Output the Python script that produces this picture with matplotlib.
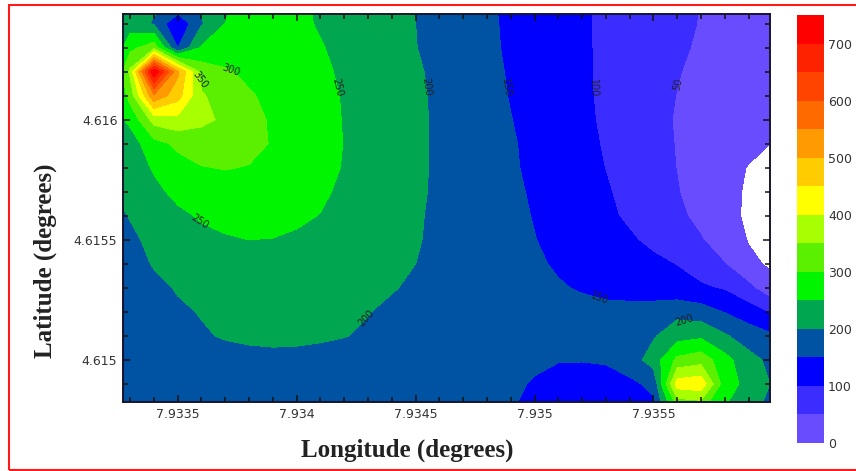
import numpy as np
import matplotlib
matplotlib.use('Agg')
import matplotlib.pyplot as plt
from matplotlib.ticker import MultipleLocator, FuncFormatter
from matplotlib.patches import Rectangle

# --- grid coordinates (degrees) ---
lon = [7.9332, 7.9333, 7.9334, 7.9335, 7.9336, 7.9337, 7.9338, 7.9339, 7.9340, 7.9341,
       7.9342, 7.9343, 7.9344, 7.9345, 7.9346, 7.9347, 7.9348, 7.9349, 7.9350, 7.9351,
       7.9352, 7.9353, 7.9354, 7.9355, 7.9356, 7.9357, 7.9358, 7.9359, 7.9360]
lat = [4.6165, 4.6164, 4.6163, 4.6162, 4.6161, 4.6160, 4.6159, 4.6158, 4.6157,
       4.6156, 4.6155, 4.6154, 4.6153, 4.6152, 4.6151, 4.6150, 4.6149, 4.6148]

# --- values, one row per latitude (north to south) ---
z_rows = [
    [185, 192, 210, 220, 210, 245, 262, 268, 258, 243, 232, 221, 210, 199, 183, 169, 155, 142, 130, 117, 105, 93, 82, 71, 60, 49, 40, 31, 22],
    [180, 225, 195, 105, 195, 250, 266, 272, 262, 245, 234, 222, 211, 200, 186, 171, 157, 143, 130, 117, 105, 93, 81, 70, 59, 48, 38, 28, 18],
    [175, 285, 330, 150, 255, 275, 278, 275, 266, 253, 238, 226, 213, 201, 187, 172, 158, 144, 131, 118, 105, 93, 80, 68, 56, 45, 35, 24, 14],
    [180, 360, 745, 510, 330, 305, 291, 280, 268, 256, 245, 231, 218, 205, 191, 176, 161, 146, 133, 119, 106, 92, 79, 65, 52, 41, 31, 21, 11],
    [190, 320, 540, 470, 355, 328, 304, 290, 276, 262, 247, 233, 220, 207, 193, 178, 163, 148, 134, 121, 107, 92, 78, 64, 49, 38, 28, 18, 7],
    [215, 262, 370, 385, 362, 341, 315, 294, 279, 264, 248, 235, 221, 207, 194, 180, 165, 151, 137, 123, 109, 93, 77, 61, 47, 36, 25, 13, 2],
    [210, 225, 282, 310, 322, 320, 312, 297, 281, 265, 249, 235, 221, 207, 194, 181, 168, 154, 140, 126, 111, 96, 80, 63, 48, 35, 23, 11, -1],
    [200, 222, 255, 282, 298, 302, 298, 286, 273, 260, 248, 235, 221, 207, 194, 181, 168, 155, 142, 128, 114, 99, 83, 66, 49, 32, 15, -2, -12],
    [195, 212, 238, 262, 276, 281, 280, 275, 266, 256, 243, 231, 218, 206, 194, 182, 170, 158, 145, 131, 118, 104, 87, 70, 52, 32, 12, -5, -18],
    [185, 202, 222, 240, 255, 262, 265, 262, 256, 249, 237, 226, 215, 204, 193, 182, 171, 160, 148, 135, 121, 108, 93, 76, 59, 38, 12, -6, -16],
    [175, 192, 210, 226, 238, 246, 250, 249, 245, 239, 232, 224, 214, 203, 192, 182, 171, 161, 151, 140, 128, 117, 105, 90, 72, 53, 24, -2, -10],
    [168, 183, 203, 216, 226, 232, 235, 236, 234, 230, 224, 217, 209, 200, 191, 182, 173, 164, 155, 146, 137, 127, 118, 109, 98, 74, 51, 8, -6],
    [163, 175, 190, 203, 212, 218, 222, 223, 222, 218, 213, 207, 202, 195, 188, 180, 172, 165, 158, 153, 147, 139, 131, 123, 115, 107, 94, 62, 12],
    [158, 168, 180, 194, 202, 206, 210, 211, 210, 207, 203, 201, 194, 186, 180, 175, 170, 166, 163, 161, 160, 161, 165, 172, 185, 172, 148, 122, 92],
    [155, 163, 172, 182, 196, 203, 206, 207, 206, 204, 201, 196, 187, 181, 176, 172, 168, 164, 160, 157, 157, 160, 170, 195, 230, 240, 205, 178, 157],
    [152, 160, 168, 175, 181, 186, 190, 192, 192, 190, 187, 182, 177, 172, 167, 163, 159, 156, 154, 152, 152, 155, 175, 222, 312, 330, 268, 215, 188],
    [150, 157, 163, 169, 174, 178, 181, 183, 183, 182, 179, 175, 171, 167, 163, 160, 157, 154, 148, 135, 128, 130, 140, 160, 425, 435, 270, 236, 196],
    [148, 154, 160, 165, 169, 172, 175, 176, 176, 175, 173, 170, 166, 162, 159, 156, 154, 152, 140, 126, 120, 122, 130, 140, 300, 310, 250, 215, 185],
]

levels = list(range(0, 751, 50))
band_colors = ['#6a4cff', '#3b2cff', '#0000ff', '#0052a2', '#00a650', '#00f500', '#5af000',
               '#a8ff00', '#ffff00', '#ffcc00', '#ff9a00', '#ff6a00', '#ff4400', '#ff2200', '#ff0000']
cbar_ticks = [0, 100, 200, 300, 400, 500, 600, 700]

# contour labels: level and point near which it sits
label_levels = [50, 100, 150, 200, 250, 300, 350]
label_points = [(7.93359, 4.616167), (7.93372, 4.616200), (7.93417, 4.616133),
                (7.93451, 4.616133), (7.93489, 4.616133), (7.93524, 4.616133),
                (7.93561, 4.616146), (7.93359, 4.615575), (7.93429, 4.615175),
                (7.93528, 4.615271), (7.93563, 4.615158)]

x_range = (7.93327, 7.93599)
y_range = (4.614825, 4.61644)

W, H = 856, 471
fig = plt.figure(figsize=(W / 100, H / 100), dpi=100)
ax = fig.add_axes([123 / W, 1 - 402 / H, 647 / W, 388 / H])
cax = fig.add_axes([797 / W, 1 - 443 / H, 27 / W, 428 / H])

Z = np.array(z_rows, dtype=float)[::-1]
lat_up = lat[::-1]

cs = ax.contourf(lon, lat_up, Z, levels=levels, colors=band_colors)
cl = ax.contour(lon, lat_up, Z, levels=label_levels, colors='k', linewidths=0)
ax.set_xlim(*x_range)
ax.set_ylim(*y_range)
ax.clabel(cl, manual=label_points, inline=False, fmt='%d', fontsize=7, colors='#222222')

fmt = FuncFormatter(lambda v, p: f'{v:g}')
ax.xaxis.set_major_locator(MultipleLocator(0.0005))
ax.xaxis.set_minor_locator(MultipleLocator(0.0001))
ax.yaxis.set_major_locator(MultipleLocator(0.0005))
ax.yaxis.set_minor_locator(MultipleLocator(0.0001))
ax.xaxis.set_major_formatter(fmt)
ax.yaxis.set_major_formatter(fmt)
ax.tick_params(which='both', direction='in', top=True, right=True, color='#111111', width=1.1)
ax.tick_params(which='major', length=5, labelsize=9, labelcolor='#333333', pad=4)
ax.tick_params(which='minor', length=3.5)
for s in ax.spines.values():
    s.set_color('#15152e')
    s.set_linewidth(1.4)

cb = fig.colorbar(cs, cax=cax, ticks=cbar_ticks)
cb.outline.set_visible(False)
cax.tick_params(length=0, labelsize=9, labelcolor='#333333', pad=3)

fig.text(407 / W, 1 - 450 / H, 'Longitude (degrees)', ha='center', va='center',
         fontsize=18, fontweight='bold', family='Liberation Serif', color='#222222')
fig.text(45 / W, 1 - 261 / H, 'Latitude (degrees)', ha='center', va='center', rotation=90,
         fontsize=18, fontweight='bold', family='Liberation Serif', color='#222222')

# red frame around the figure
fig.patches.append(Rectangle((9 / W, 1 - 470 / H), 1.2, 465 / H, transform=fig.transFigure,
                             fill=False, edgecolor='#ff1a1a', linewidth=1.5, clip_on=False))

fig.savefig('out.png', dpi=100)
